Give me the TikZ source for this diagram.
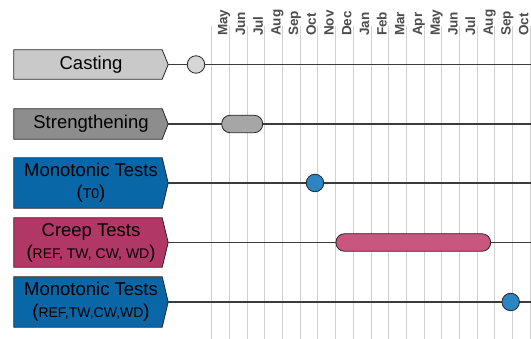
\documentclass[tikz,border=0pt]{standalone}
\usepackage{fontspec}
\setmainfont{Liberation Sans}
\usetikzlibrary{backgrounds}

\definecolor{castgray}{HTML}{C9C9C9}
\definecolor{castdot}{HTML}{D6D6D6}
\definecolor{strgray}{HTML}{8D8D8D}
\definecolor{strbar}{HTML}{A6A6A6}
\definecolor{monoblue}{HTML}{0A67A7}
\definecolor{monodot}{HTML}{2B85C1}
\definecolor{creepred}{HTML}{B13766}
\definecolor{creepbar}{HTML}{C8567F}
\definecolor{rowline}{HTML}{3C3C3C}

\newcommand{\sm}[1]{{\fontsize{14}{22}\selectfont #1}}

\begin{document}
\begin{tikzpicture}[x=1pt,y=-1pt,line cap=round,line join=round,
  phase/.style={minimum width=154pt,inner sep=0pt,align=center,font=\fontsize{18.5}{22}\selectfont},
  outline/.style={draw=black!85,line width=0.8pt},
  grid/.style={draw=black!18,line width=0.9pt},
  month/.style={rotate=90,anchor=base west,inner sep=0pt,text=black!70,font=\bfseries\fontsize{13.5}{14}\selectfont},
  row/.style={draw=rowline,line width=1.1pt},
  dot/.style={circle,draw=black!85,line width=0.8pt,minimum size=17.5pt,inner sep=0pt},
  pill/.style={rectangle,rounded corners=8.5pt,draw=black!85,line width=0.8pt,minimum height=17.5pt,inner sep=0pt}]
\useasboundingbox (0,0) rectangle (531,339);

% month grid
\foreach \k in {0,...,18}
  \draw[grid] (211.7+17.7*\k,26) -- (211.7+17.7*\k,339);
\foreach \m [count=\k] in {May,Jun,Jul,Aug,Sep,Oct,Nov,Dec,Jan,Feb,Mar,Apr,May,Jun,Jul,Aug,Sep,Oct}
  \node[month] (m\k) at (211.7+17.7*\k-2,36) {\m};

% phases
\node[phase,minimum height=29pt] (casting) at (91,64.5) {Casting};
\node[phase,minimum height=30pt] (strength) at (91,124) {Strengthening};
\node[phase,minimum height=50pt] (mono) at (91,183) {Monotonic Tests\\(\sm{T0})};
\node[phase,minimum height=49pt] (creep) at (91,242.5) {Creep Tests\\(\sm{REF, TW, CW, WD})};
\node[phase,minimum height=50pt] (monob) at (91,302) {Monotonic Tests\\(\sm{REF,TW,CW,WD})};

\begin{scope}[on background layer]
\foreach \n/\c in {casting/castgray,strength/strgray,mono/monoblue,creep/creepred,monob/monoblue}
  \draw[outline,fill=\c] (\n.north west) -- ([xshift=-6pt]\n.north east) -- (\n.east)
    -- ([xshift=-6pt]\n.south east) -- (\n.south west) -- cycle;
\end{scope}

% time lines
\foreach \n in {casting,strength,mono,creep,monob} {
  \coordinate (\n end) at (531,0 |- \n.east);
  \draw[row] (\n.east) -- (\n end);
}

% events
\node[dot,fill=castdot] (casting mark) at (196,64.5) {};
\node[pill,fill=strbar,minimum width=41pt] (strength bar) at (242.2,124) {};
\node[dot,fill=monodot] (mono mark) at (315,183) {};
\node[pill,fill=creepbar,minimum width=154.7pt] (creep bar) at (413.3,242.5) {};
\node[dot,fill=monodot] (monob mark) at (510.7,302) {};
\end{tikzpicture}
\end{document}
